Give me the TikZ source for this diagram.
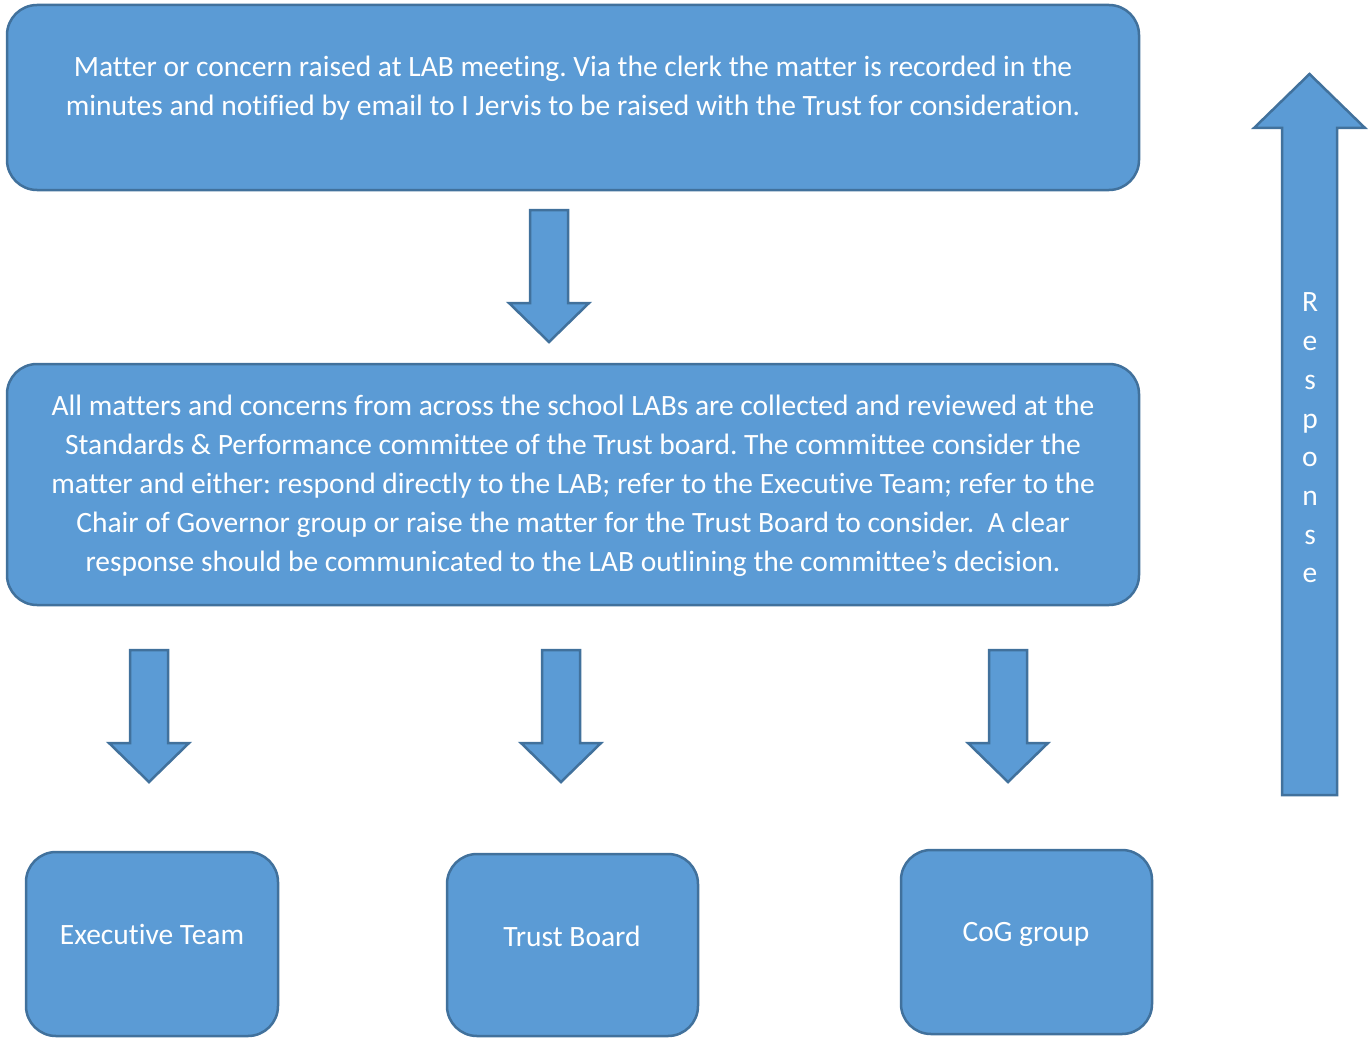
\documentclass[tikz,border=0pt]{standalone}
\usepackage{fontspec}
\setmainfont{Carlito}[Ligatures=NoCommon]
\definecolor{boxfill}{HTML}{5B9BD5}
\definecolor{boxline}{HTML}{41719C}
\begin{document}
\frenchspacing
\begin{tikzpicture}[x=1pt,y=-1pt,
  box/.style={draw=boxline,fill=boxfill,line width=2.5pt,rounded corners=30pt},
  blk/.style={draw=boxline,fill=boxfill,line width=2.5pt,line join=miter},
  txt/.style={text=white,align=center,font=\fontsize{29.5}{39}\selectfont,inner sep=0pt}]
\useasboundingbox (0,0) rectangle (1370,1038);
% boxes
\draw[box] (7,5) rectangle (1139,190);
\draw[box] (7,364) rectangle (1139,605);
\draw[box] (26,852) rectangle (278,1036);
\draw[box] (447,854) rectangle (698,1036);
\draw[box] (901,850) rectangle (1152,1034);
% texts
\node[txt] (t1) at (573,88) {Matter or concern raised at LAB meeting. Via the clerk the matter is recorded in the\\minutes and notified by email to I Jervis to be raised with the Trust for consideration.};
\node[txt] (t2) at (573,486) {All matters and concerns from across the school LABs are collected and reviewed at the\\Standards \& Performance committee of the Trust board. The committee consider the\\matter and either: respond directly to the LAB; refer to the Executive Team; refer to the\\Chair of Governor group or raise the matter for the Trust Board to consider.\ \ A clear\\response should be communicated to the LAB outlining the committee’s decision.};
\node[txt] (t3) at (152,934) {Executive Team};
\node[txt] (t4) at (572,936) {Trust Board};
\node[txt] (t5) at (1026,934) {CoG group};
% down arrows
\foreach \cx/\ty/\hy/\by in {549/210/303/342, 149/650/743/782, 561/650/743/782, 1008/650/743/782}{
  \draw[blk] (\cx-19,\ty) -- (\cx+19,\ty) -- (\cx+19,\hy) -- (\cx+40,\hy) -- (\cx,\by) -- (\cx-40,\hy) -- (\cx-19,\hy) -- cycle;
}
% response arrow
\draw[blk] (1282,795) -- (1337,795) -- (1337,128) -- (1365,128) -- (1309.5,74) -- (1254,128) -- (1282,128) -- cycle;
\node[txt,font=\fontsize{29.5}{38.7}\selectfont] (resp) at (1310,438) {R\\e\\s\\p\\o\\n\\s\\e};
\end{tikzpicture}
\end{document}
